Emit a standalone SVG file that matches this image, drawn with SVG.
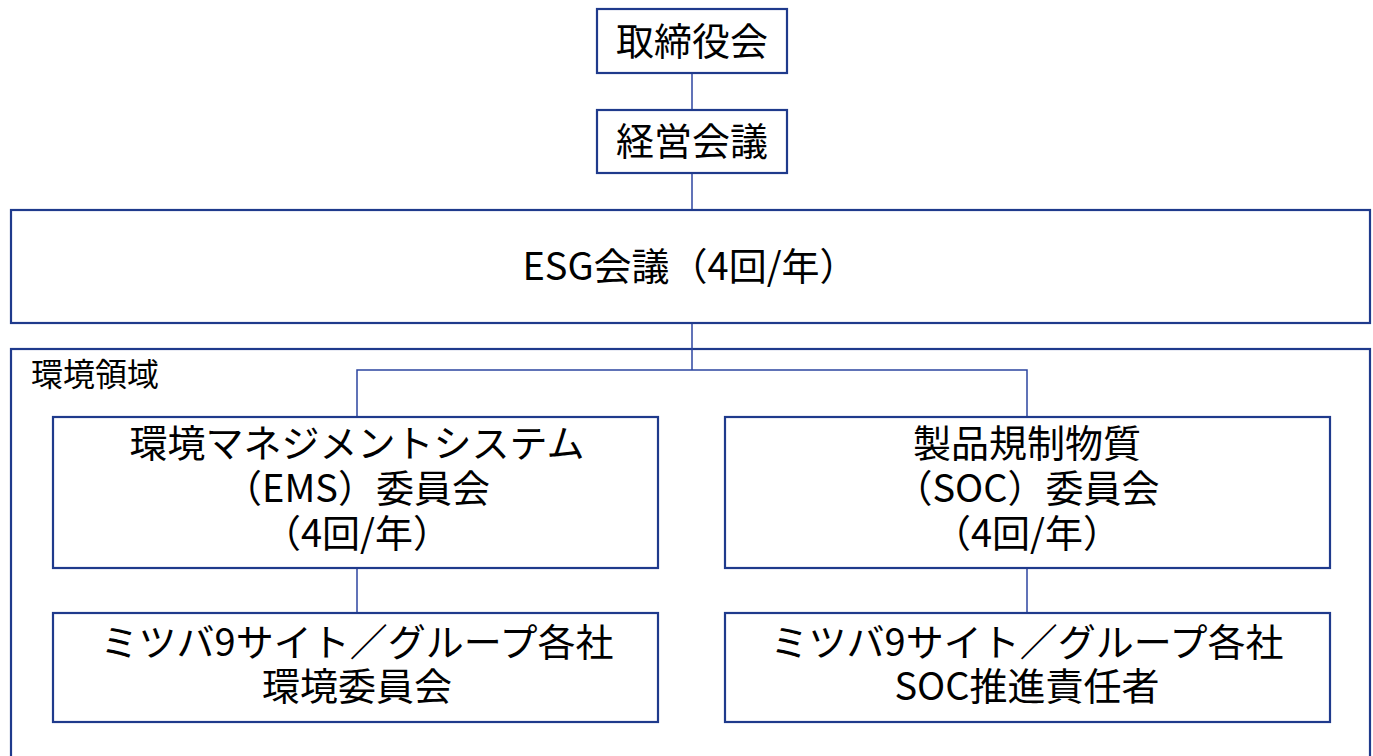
<svg xmlns="http://www.w3.org/2000/svg" width="1373" height="756" viewBox="0 0 1373 756">
<style>
.box{fill:#fff;stroke:#1f3a8c;stroke-width:2.2}
.frame{fill:none;stroke:#1f3a8c;stroke-width:2.2}
.con{fill:none;stroke:#2c45a0;stroke-width:1.5}
text{font-family:"Noto Sans CJK JP","Noto Sans",sans-serif;fill:#000;font-size:38px;text-anchor:middle}
.lbl{font-size:32px;text-anchor:start}
</style>
<rect width="1373" height="756" fill="#fff"/>
<g id="area">
<rect class="frame" x="11" y="349" width="1359" height="430"/>
<text class="lbl" x="31" y="386">環境領域</text>
</g>
<g id="connectors">
<line class="con" x1="692" y1="73" x2="692" y2="110"/>
<line class="con" x1="692" y1="173" x2="692" y2="210"/>
<line class="con" x1="692" y1="323" x2="692" y2="370"/>
<polyline class="con" points="357,417 357,370 1027,370 1027,417"/>
<line class="con" x1="357" y1="568" x2="357" y2="613"/>
<line class="con" x1="1027" y1="568" x2="1027" y2="613"/>
</g>
<g id="board">
<rect class="box" x="597" y="9" width="190" height="64"/>
<text x="692" y="55">取締役会</text>
</g>
<g id="mgmt">
<rect class="box" x="597" y="110" width="190" height="63"/>
<text x="692" y="155">経営会議</text>
</g>
<g id="esg">
<rect class="box" x="11" y="210" width="1359" height="113"/>
<text x="690" y="280">ESG会議（4回/年）</text>
</g>
<g id="ems">
<rect class="box" x="53" y="417" width="605" height="151"/>
<text x="357" y="457">環境マネジメントシステム</text>
<text x="357" y="502">（EMS）委員会</text>
<text x="357" y="547">（4回/年）</text>
</g>
<g id="soc">
<rect class="box" x="725" y="417" width="605" height="151"/>
<text x="1027" y="457">製品規制物質</text>
<text x="1027" y="502">（SOC）委員会</text>
<text x="1027" y="547">（4回/年）</text>
</g>
<g id="ems-sites">
<rect class="box" x="53" y="613" width="605" height="109"/>
<text x="357" y="656">ミツバ9サイト／グループ各社</text>
<text x="357" y="700">環境委員会</text>
</g>
<g id="soc-sites">
<rect class="box" x="725" y="613" width="605" height="109"/>
<text x="1027" y="656">ミツバ9サイト／グループ各社</text>
<text x="1027" y="700">SOC推進責任者</text>
</g>
</svg>
